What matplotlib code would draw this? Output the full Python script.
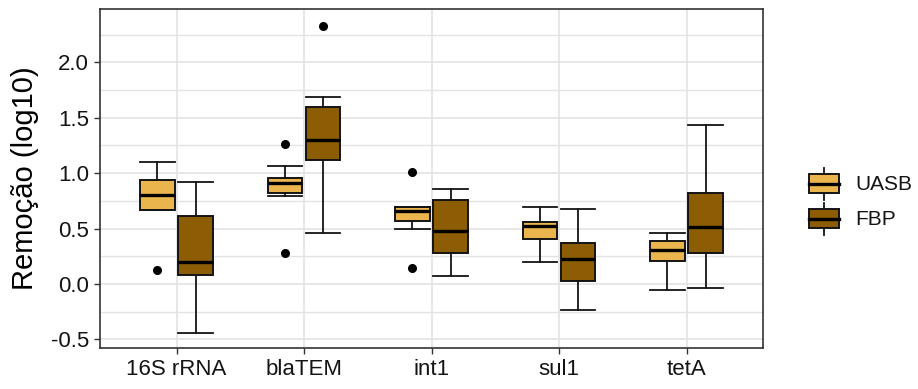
import numpy as np
import matplotlib
matplotlib.use("Agg")
import matplotlib.pyplot as plt
from matplotlib.patches import Rectangle
from matplotlib.ticker import MultipleLocator

plt.rcParams["font.family"] = ["Liberation Sans", "DejaVu Sans"]

# log10 removal per gene, summarised as box statistics
genes = ["16S rRNA", "blaTEM", "int1", "sul1", "tetA"]

uasb_lo = [0.67, 0.79, 0.50, 0.20, -0.05]
uasb_q1 = [0.67, 0.82, 0.57, 0.41, 0.21]
uasb_med = [0.80, 0.91, 0.66, 0.52, 0.31]
uasb_q3 = [0.94, 0.96, 0.69, 0.56, 0.39]
uasb_hi = [1.10, 1.06, 0.69, 0.69, 0.46]
uasb_out = [[0.13], [1.26, 0.28], [1.01, 0.14], [], []]

fbp_lo = [-0.44, 0.46, 0.07, -0.23, -0.04]
fbp_q1 = [0.08, 1.12, 0.28, 0.03, 0.28]
fbp_med = [0.20, 1.30, 0.48, 0.23, 0.51]
fbp_q3 = [0.61, 1.60, 0.76, 0.37, 0.82]
fbp_hi = [0.92, 1.69, 0.86, 0.68, 1.43]
fbp_out = [[], [2.33], [], [], []]

groups = ["UASB", "FBP"]
colors = {"UASB": "#EBB54E", "FBP": "#8C5D04"}


def box_stats(lo, q1, med, q3, hi, out):
    return [dict(whislo=a, q1=b, med=c, q3=d, whishi=e, fliers=f)
            for a, b, c, d, e, f in zip(lo, q1, med, q3, hi, out)]


stats = {
    "UASB": box_stats(uasb_lo, uasb_q1, uasb_med, uasb_q3, uasb_hi, uasb_out),
    "FBP": box_stats(fbp_lo, fbp_q1, fbp_med, fbp_q3, fbp_hi, fbp_out),
}
offsets = {"UASB": -0.15, "FBP": 0.15}
box_w = 0.27

W, H = 918, 389
fig = plt.figure(figsize=(W / 100, H / 100), dpi=100)
ax = fig.add_axes([100 / W, 1 - 348 / H, 663 / W, 339 / H])

x = np.arange(1, len(genes) + 1)
for g in groups:
    ax.bxp(stats[g], positions=x + offsets[g], widths=box_w,
           patch_artist=True, showfliers=True, manage_ticks=False,
           boxprops=dict(facecolor=colors[g], edgecolor="#141414", linewidth=1.4),
           medianprops=dict(color="black", linewidth=2.4),
           whiskerprops=dict(color="#141414", linewidth=1.3),
           capprops=dict(color="#141414", linewidth=1.3),
           capwidths=box_w,
           flierprops=dict(marker="o", markerfacecolor="black",
                           markeredgecolor="black", markersize=5.5),
           zorder=3)

ax.set_xlim(0.4, len(genes) + 0.6)
ax.set_ylim(-0.577, 2.48)
ax.set_xticks(x)
ax.set_xticklabels(genes)
ax.yaxis.set_minor_locator(MultipleLocator(0.25))
yticks = np.arange(-0.5, 2.01, 0.5)
ax.set_yticks(yticks)
ax.set_yticklabels([f"{v:.1f}" for v in yticks])

ax.grid(True, which="major", color="#E3E3E3", linewidth=1.2, zorder=0)
ax.grid(True, which="minor", axis="y", color="#E3E3E3", linewidth=1.0, zorder=0)
ax.set_axisbelow(True)
ax.tick_params(axis="both", which="major", length=4, width=1, color="#333333",
               labelsize=16, labelcolor="#141414", pad=4)
ax.tick_params(axis="y", which="minor", length=0)
for s in ax.spines.values():
    s.set_color("#333333")
    s.set_linewidth(1.2)

ax.set_ylabel("Remoção (log10)", fontsize=21)
ax.yaxis.set_label_coords((39 - 100) / 663, 0.5)

# hand-drawn legend keys in pixel coordinates
lax = fig.add_axes([780 / W, 1 - 250 / H, 138 / W, 100 / H])
lax.set_xlim(780, 918)
lax.set_ylim(250, 150)
lax.axis("off")
for g, cy in zip(groups, [183.5, 218.5]):
    lax.plot([823.5, 823.5], [cy - 16, cy + 16], color="#141414", lw=1.3)
    lax.add_patch(Rectangle((809, cy - 9.5), 30, 19, facecolor=colors[g],
                            edgecolor="#141414", lw=1.4, zorder=3))
    lax.plot([809, 839], [cy, cy], color="black", lw=2.4, zorder=4)
    lax.text(855, cy + 1, g, fontsize=15, va="center", ha="left", color="#141414")

fig.savefig("out.png", dpi=100)
